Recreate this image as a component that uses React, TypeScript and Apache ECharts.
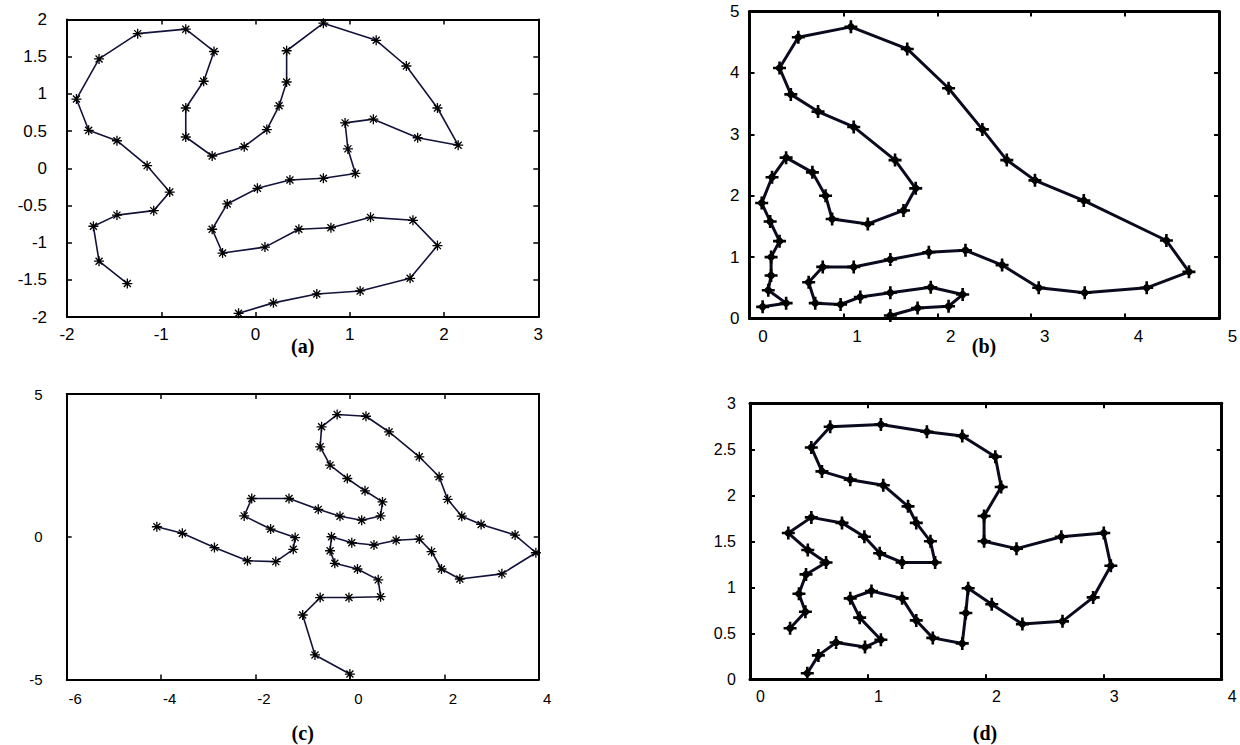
import React, { useEffect, useRef } from "react";
import * as echarts from "echarts";

// Panel (a)
const A_X = [-1.36,-1.66,-1.72,-1.47,-1.08,-0.91,-1.15,-1.47,-1.77,-1.90,-1.66,-1.25,-0.74,-0.44,-0.55,-0.74,-0.74,-0.46,-0.12,0.12,0.25,0.33,0.33,0.72,1.28,1.60,1.93,2.15,1.72,1.25,0.95,0.98,1.06,0.72,0.365,0.02,-0.30,-0.46,-0.35,0.10,0.46,0.80,1.22,1.67,1.93,1.64,1.11,0.65,0.19,-0.18];
const A_Y = [-1.55,-1.25,-0.78,-0.63,-0.57,-0.32,0.035,0.37,0.51,0.93,1.47,1.81,1.87,1.57,1.17,0.81,0.42,0.165,0.29,0.52,0.84,1.16,1.58,1.95,1.72,1.375,0.81,0.31,0.41,0.66,0.61,0.26,-0.07,-0.135,-0.157,-0.27,-0.48,-0.82,-1.14,-1.06,-0.82,-0.80,-0.66,-0.70,-1.04,-1.48,-1.65,-1.69,-1.81,-1.95];

// Panel (b)
const B_X = [1.50,1.79,2.12,2.27,1.93,1.50,1.18,0.97,0.70,0.63,0.78,1.11,1.50,1.91,2.30,2.69,3.08,3.57,4.23,4.68,4.44,3.56,3.04,2.74,2.48,2.12,1.68,1.08,0.52,0.32,0.44,0.73,1.11,1.55,1.77,1.64,1.26,0.88,0.81,0.67,0.39,0.24,0.13,0.22,0.32,0.23,0.23,0.20,0.39,0.14];
const B_Y = [0.05,0.17,0.20,0.39,0.51,0.42,0.35,0.23,0.25,0.59,0.84,0.84,0.96,1.08,1.11,0.87,0.50,0.42,0.50,0.76,1.27,1.92,2.25,2.58,3.08,3.75,4.39,4.75,4.58,4.08,3.65,3.37,3.12,2.58,2.12,1.76,1.54,1.62,2.00,2.38,2.62,2.30,1.88,1.58,1.26,1.00,0.70,0.46,0.25,0.19];

// Panel (c)
const C_X = [-4.09,-3.55,-2.87,-2.17,-1.57,-1.20,-1.16,-1.68,-2.24,-2.08,-1.29,-0.67,-0.21,0.25,0.65,0.69,0.32,-0.055,-0.42,-0.63,-0.60,-0.27,0.34,0.83,1.47,1.89,2.07,2.37,2.78,3.50,3.94,3.22,2.33,1.94,1.73,1.47,0.98,0.51,0.04,-0.39,-0.42,-0.32,0.16,0.60,0.65,-0.02,-0.63,-1.00,-0.74,0.0];
const C_Y = [0.35,0.12,-0.38,-0.84,-0.87,-0.44,-0.03,0.27,0.73,1.34,1.34,0.96,0.72,0.58,0.73,1.22,1.61,2.04,2.51,3.15,3.85,4.28,4.22,3.67,2.80,2.10,1.31,0.72,0.43,0.06,-0.56,-1.30,-1.48,-1.13,-0.52,-0.08,-0.12,-0.29,-0.21,0.0,-0.49,-0.93,-1.13,-1.51,-2.10,-2.13,-2.13,-2.74,-4.14,-4.81];

// Panel (d)
const D_X = [0.486,0.58,0.73,0.975,1.11,0.93,0.85,1.03,1.29,1.41,1.55,1.80,1.83,1.85,2.05,2.31,2.65,2.91,3.06,3.00,2.64,2.26,1.985,1.985,2.13,2.08,1.80,1.50,1.11,0.68,0.52,0.61,0.85,1.13,1.34,1.41,1.53,1.57,1.29,1.10,0.97,0.78,0.52,0.325,0.49,0.645,0.475,0.415,0.47,0.34];
const D_Y = [0.065,0.26,0.40,0.35,0.43,0.67,0.88,0.96,0.88,0.64,0.45,0.39,0.72,0.99,0.815,0.60,0.63,0.89,1.235,1.59,1.55,1.42,1.50,1.775,2.09,2.42,2.645,2.69,2.77,2.745,2.52,2.26,2.17,2.11,1.88,1.70,1.50,1.27,1.27,1.37,1.55,1.70,1.76,1.59,1.405,1.27,1.14,0.93,0.735,0.555];

const CAPTIONS = ["(a)", "(b)", "(c)", "(d)"];

const STAR = "path://M5 0L5 10M0 5L10 5M1.5 1.5L8.5 8.5M8.5 1.5L1.5 8.5";
const PLUS = "path://M5 0L5 10M0 5L10 5M5 2.6L7.4 5L5 7.4L2.6 5Z";

const zip = (xs: number[], ys: number[]) => xs.map((x, i) => [x, ys[i]]);

type P = {
  grid: any; xr: [number, number, number]; yr: [number, number, number];
  lw: number; fs: number; xPad: number; yMargin: number; xMargin: number;
};

const PANELS: P[] = [
  { grid: { left: 67, top: 19.5, width: 471.3, height: 297.5 }, xr: [-2, 3, 1], yr: [-2, 2, 0.5], lw: 2, fs: 17, xPad: 0, yMargin: 20, xMargin: 9 },
  { grid: { left: 749.5, top: 11.5, width: 469.5, height: 307 }, xr: [0, 5, 1], yr: [0, 5, 1], lw: 3, fs: 17, xPad: 27, yMargin: 10, xMargin: 9 },
  { grid: { left: 66.7, top: 394, width: 472, height: 285.5 }, xr: [-6, 4, 2], yr: [-5, 5, 5], lw: 2, fs: 15, xPad: 17, yMargin: 24, xMargin: 11 },
  { grid: { left: 750, top: 403.3, width: 471.7, height: 276 }, xr: [0, 4, 1], yr: [0, 3, 0.5], lw: 3, fs: 16, xPad: 21, yMargin: 14, xMargin: 9 },
];

export default function App() {
  const ref = useRef<HTMLDivElement>(null);
  useEffect(() => {
    if (!ref.current) return;
    const chart = echarts.init(ref.current, null, { renderer: "svg" });
    const font = "Liberation Sans";
    const xAxis: any[] = [];
    const yAxis: any[] = [];
    const grid: any[] = [];
    PANELS.forEach((p, gi) => {
      grid.push({ ...p.grid, containLabel: false, outerBoundsMode: "none" });
      const common = (lw: number) => ({
        axisLine: { show: true, onZero: false, lineStyle: { color: "#000", width: lw } },
        axisTick: { show: true, inside: true, length: 5, lineStyle: { color: "#000", width: lw > 2 ? 2 : 1.5 } },
        splitLine: { show: false },
      });
      ["bottom", "top"].forEach((pos, k) => {
        xAxis.push({
          type: "value", gridIndex: gi, position: pos, min: p.xr[0], max: p.xr[1], interval: p.xr[2],
          ...common(p.lw),
          axisLabel: {
            show: k === 0, color: "#000", fontFamily: font, fontSize: p.fs, margin: p.xMargin,
            padding: [0, 0, 0, p.xPad], showMinLabel: true, showMaxLabel: true,
          },
        });
      });
      ["left", "right"].forEach((pos, k) => {
        yAxis.push({
          type: "value", gridIndex: gi, position: pos, min: p.yr[0], max: p.yr[1], interval: p.yr[2],
          ...common(p.lw),
          axisLabel: {
            show: k === 0, color: "#000", fontFamily: font, fontSize: p.fs, margin: p.yMargin,
            showMinLabel: true, showMaxLabel: true,
          },
        });
      });
    });
    const datasets = [zip(A_X, A_Y), zip(B_X, B_Y), zip(C_X, C_Y), zip(D_X, D_Y)];
    const series = datasets.map((d, i) => {
      const thick = i === 1 || i === 3;
      return {
        type: "line",
        xAxisIndex: i * 2,
        yAxisIndex: i * 2,
        data: d,
        silent: true,
        showAllSymbol: true,
        symbol: thick ? PLUS : STAR,
        symbolSize: thick ? 13 : 10,
        lineStyle: { color: thick ? "#0a0a1e" : "#12123a", width: thick ? 3 : 1.6 },
        itemStyle: { color: "#000", borderColor: "#000", borderWidth: thick ? 2.6 : 1.3 },
        emphasis: { disabled: true },
      };
    });
    const capPos = [[302.7, 346], [984, 346], [302.7, 733], [985, 733]];
    const graphic = CAPTIONS.map((t, i) => ({
      type: "text",
      x: capPos[i][0],
      y: capPos[i][1],
      style: {
        text: t, fill: "#000", fontFamily: "Liberation Serif", fontWeight: "bold", fontSize: 20,
        align: "center", verticalAlign: "middle",
      },
    }));
    chart.setOption({
      animation: false,
      backgroundColor: "#fff",
      grid, xAxis, yAxis, series, graphic,
    });
    return () => chart.dispose();
  }, []);
  return <div ref={ref} style={{ position: "fixed", left: 0, top: 0, width: 1240, height: 745, background: "#fff" }} />;
}
